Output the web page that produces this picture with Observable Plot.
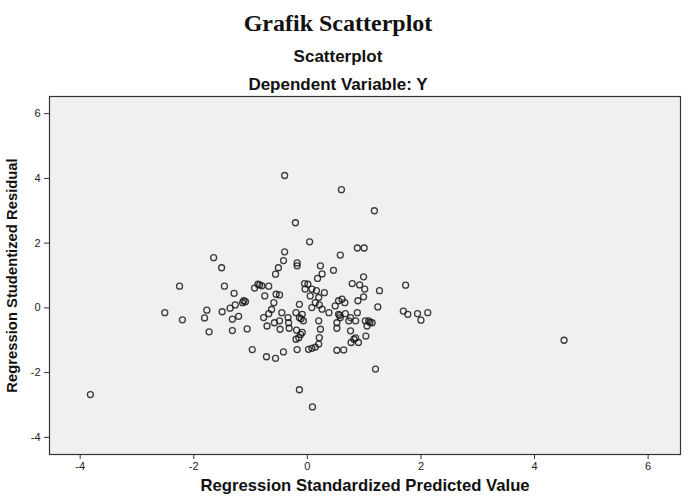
<!DOCTYPE html>
<html><head><meta charset="utf-8">
<script src="https://cdn.jsdelivr.net/npm/d3@7"></script>
<script src="https://cdn.jsdelivr.net/npm/@observablehq/plot@0.6"></script>
<style>
body{margin:0;background:#fff;width:689px;height:496px;overflow:hidden;position:relative;font-family:"Liberation Sans",Arial,sans-serif;color:#111;}
.t{position:absolute;left:0;width:676px;text-align:center;line-height:1;white-space:nowrap;}
#t1{top:11px;font-family:"Liberation Serif","Times New Roman",serif;font-weight:bold;font-size:24px;}
#t2{top:48px;font-weight:bold;font-size:17px;}
#t3{top:76px;font-weight:bold;font-size:17px;}
#chart{position:absolute;top:90px;left:0;}
</style></head>
<body>
<div class="t" id="t1">Grafik Scatterplot</div>
<div class="t" id="t2">Scatterplot</div>
<div class="t" id="t3">Dependent Variable: Y</div>
<div id="chart"></div>
<script>
const predicted = [
 -0.40,0.60,1.18,-0.21,0.04,-0.40,-0.42,-0.18,-0.18,-0.51,-0.56,0.23,0.26,0.46,0.58,0.88,1.00,0.99,0.18,-1.65,
 -1.51,-2.25,-1.46,-1.29,-2.51,-2.20,-1.73,-1.32,-1.06,-0.97,-3.82,1.73,1.69,1.77,1.94,2.12,2.00,4.52,1.20,-0.14,
 0.09,-1.77,-1.81,-1.50,-1.36,-1.27,-1.21,-1.32,
 -0.87,-0.84,-0.93,-0.80,-0.68,-0.75,-0.55,-0.49,-1.14,-1.09,-1.12,-0.59,-0.63,-0.68,-0.77,-0.71,-0.58,-0.49,-0.45,-0.34,
 -0.33,-0.48,-0.32,-0.20,-0.14,-0.05,-0.04,-0.14,-0.11,-0.09,-0.07,-0.19,-0.15,-0.09,-0.12,-0.20,-0.72,-0.56,-0.42,-0.18,
 0.79,0.92,1.01,1.27,0.01,0.08,0.05,0.20,0.30,0.14,0.21,0.08,0.26,0.38,0.55,0.61,0.66,0.89,0.99,0.49,
 0.55,0.57,0.67,0.76,0.88,0.58,0.52,0.73,0.85,1.02,1.08,1.10,1.14,1.24,0.20,0.23,0.52,0.76,1.05,1.03,
 0.82,0.85,0.90,0.77,0.21,0.20,0.08,0.02,0.52,0.64,0.14,0.16
];
const residual = [
 4.09,3.65,3.00,2.63,2.04,1.73,1.46,1.39,1.30,1.24,1.04,1.30,1.05,1.16,1.63,1.85,1.85,0.96,0.91,1.55,
 1.24,0.67,0.67,0.45,-0.15,-0.37,-0.74,-0.70,-0.65,-1.29,-2.68,0.70,-0.10,-0.20,-0.18,-0.15,-0.38,-1.00,-1.89,-2.53,
 -3.06,-0.07,-0.31,-0.12,-0.01,0.09,-0.26,-0.35,
 0.73,0.71,0.61,0.68,0.67,0.37,0.42,0.40,0.16,0.19,0.22,0.16,-0.05,-0.18,-0.30,-0.56,-0.46,-0.40,-0.15,-0.30,
 -0.46,-0.66,-0.63,-0.15,0.11,0.75,0.58,-0.30,-0.34,-0.20,-0.40,-0.69,-0.92,-0.76,-0.82,-0.97,-1.51,-1.56,-1.36,-1.29,
 0.75,0.71,0.58,0.53,0.73,0.58,0.37,0.32,0.47,0.16,0.09,0.01,-0.04,-0.15,0.22,0.27,0.16,0.22,0.34,0.06,
 -0.20,-0.23,-0.18,-0.30,-0.15,-0.30,-0.46,-0.40,-0.40,-0.40,-0.40,-0.45,-0.46,0.03,-0.40,-0.66,-0.63,-0.71,-0.56,-0.87,
 -0.97,-0.93,-1.07,-1.07,-0.92,-1.12,-1.25,-1.28,-1.31,-1.30,-1.21,0.53
];
const xTicks = [-4,-2,0,2,4,6];
const yTicks = [-4,-2,0,2,4,6];
const xDomain = [-4.54,6.57];
const yDomain = [-4.53,6.53];
const xLabel = "Regression Standardized Predicted Value";
const yLabel = "Regression Studentized Residual";

const data = predicted.map((x,i)=>({x, y: residual[i]}));
const fmt = d => String(d);
const chart = Plot.plot({
  width: 689, height: 406,
  marginTop: 6, marginBottom: 42, marginLeft: 49, marginRight: 9,
  style: {fontFamily: "Liberation Sans, Arial, sans-serif", fontSize: "11px", color: "#222", background: "transparent", overflow: "visible"},
  x: {domain: xDomain},
  y: {domain: yDomain},
  marks: [
    Plot.frame({fill: "#f0f0f0", stroke: "none"}),
    Plot.dot(data, {x: "x", y: "y", r: 3, stroke: "#1a1a1a", strokeWidth: 1.3, strokeOpacity: 0.85, fill: "none"}),
    Plot.frame({stroke: "#333", strokeWidth: 1.2}),
    Plot.axisX({ticks: xTicks, tickFormat: fmt, tickSize: 5, tickPadding: 3, label: null, stroke: "#333"}),
    Plot.axisY({ticks: yTicks, tickFormat: fmt, tickSize: 5, tickPadding: 4, label: null, stroke: "#333"}),
    Plot.text([xLabel], {text: d => d, frameAnchor: "bottom", textAnchor: "middle", dy: 36, fontSize: 16.7, fontWeight: "bold", fill: "#111"}),
    Plot.text([yLabel], {text: d => d, frameAnchor: "left", textAnchor: "middle", dx: -37, rotate: -90, fontSize: 14.8, fontWeight: "bold", fill: "#111"})
  ]
});
document.getElementById("chart").appendChild(chart);
</script>
</body></html>
